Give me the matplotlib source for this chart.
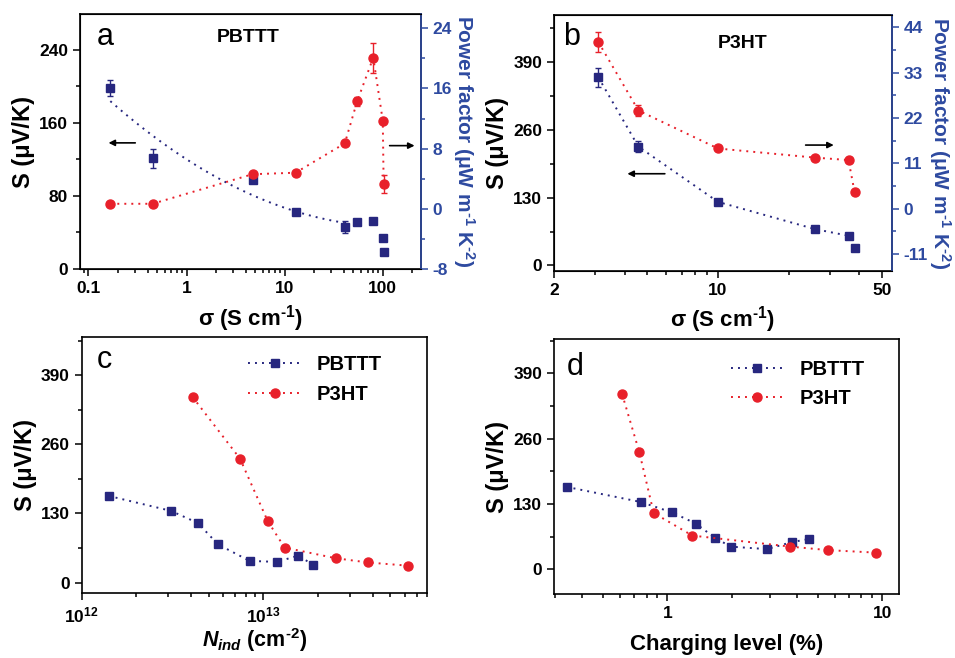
import numpy as np
import matplotlib
matplotlib.use('Agg')
import matplotlib.pyplot as plt
from matplotlib.ticker import FixedLocator, AutoMinorLocator, NullFormatter

plt.rcParams['font.family'] = ['Liberation Sans', 'DejaVu Sans']
plt.rcParams['font.weight'] = 'bold'
plt.rcParams['axes.unicode_minus'] = False
plt.rcParams['mathtext.fontset'] = 'custom'
plt.rcParams['mathtext.rm'] = 'Liberation Sans:bold'
plt.rcParams['mathtext.bf'] = 'Liberation Sans:bold'
plt.rcParams['mathtext.it'] = 'Liberation Sans:italic:bold'
plt.rcParams['mathtext.default'] = 'bf'

RED = '#e8202a'
NAVY = '#27277f'
AXBLUE = '#2e4aa0'

# panel a: PBTTT vs conductivity
a_sigma = [0.167, 0.45, 4.7, 12.9, 41, 54.8, 80, 100, 102]
a_S = [198, 121, 97, 62, 46, 51, 53, 34, 19]
a_S_err = [9, 10, 0, 0, 7, 0, 0, 0, 0]
a_PF = [0.67, 0.67, 4.6, 4.8, 8.7, 14.3, 20.1, 11.7, 3.3]
a_PF_err = [0, 0, 0, 0, 0, 0.6, 2.0, 0, 1.2]

# panel b: P3HT vs conductivity
b_sigma = [3.09, 4.58, 10.0, 25.8, 36.0, 38.2]
b_S = [361, 228, 122, 70, 57, 33]
b_S_err = [18, 11, 0, 0, 0, 0]
b_PF = [40.4, 23.8, 14.6, 12.4, 11.8, 4.1]
b_PF_err = [2.5, 1.4, 0, 0, 0, 0]

# panel c: S vs induced carrier density
c_N_pbttt = [1.41e12, 3.1e12, 4.37e12, 5.63e12, 8.4e12, 1.19e13, 1.56e13, 1.87e13]
c_S_pbttt = [163, 135, 112, 72, 41, 39, 51, 34]
c_N_p3ht = [4.08e12, 7.45e12, 1.057e13, 1.31e13, 2.5e13, 3.76e13, 6.24e13]
c_S_p3ht = [349, 233, 116, 66, 46, 38, 32]

# panel d: S vs charging level
d_cl_pbttt = [0.34, 0.751, 1.055, 1.355, 1.66, 1.97, 2.91, 3.79, 4.55]
d_S_pbttt = [164, 134, 113, 91, 63, 45, 40, 54, 60]
d_cl_p3ht = [0.616, 0.741, 0.864, 1.307, 3.73, 5.61, 9.38]
d_S_p3ht = [349, 233, 112, 67, 45, 38, 33]

DOT = (0, (1, 2.6))
SIGMA_LABEL = r'σ (S cm$^{\text{-}1}$)'
PF_LABEL = r'Power factor (μW m$^{\text{-}1}$ K$^{\text{-}2}$)'
S_LABEL = 'S (μV/K)'

fig = plt.figure(figsize=(9.55, 6.58), dpi=100)
ax_a = fig.add_axes([0.0838, 0.5912, 0.357, 0.3875])
ax_b = fig.add_axes([0.5801, 0.5886, 0.3536, 0.389])
ax_c = fig.add_axes([0.0855, 0.0983, 0.3619, 0.389])
ax_d = fig.add_axes([0.5801, 0.0968, 0.3616, 0.3875])


def style_axis(ax):
    ax.tick_params(which='both', direction='out', labelsize=12.5, width=1.1)
    ax.tick_params(which='major', length=5)
    ax.tick_params(which='minor', length=3)
    for s in ax.spines.values():
        s.set_linewidth(1.2)
    for lab in ax.get_xticklabels() + ax.get_yticklabels():
        lab.set_fontweight('bold')


def style_right(ax2):
    ax2.tick_params(which='both', direction='out', labelsize=12.5, width=1.1,
                    colors=AXBLUE)
    ax2.tick_params(which='major', length=5)
    ax2.tick_params(which='minor', length=3)
    ax2.spines['right'].set_color(AXBLUE)
    ax2.spines['right'].set_linewidth(1.2)
    for lab in ax2.get_yticklabels():
        lab.set_fontweight('bold')


def log_xaxis(ax, major, labels):
    ax.set_xscale('log')
    ax.xaxis.set_major_locator(FixedLocator(major))
    ax.set_xticklabels(labels)
    ax.xaxis.set_minor_formatter(NullFormatter())


def arrow(ax, start, end):
    ax.annotate('', xy=end, xytext=start,
                arrowprops=dict(arrowstyle='-|>', color='black', lw=1.2,
                                mutation_scale=9))


# ---- a ----
ax = ax_a
axr = ax.twinx()
lg = np.log10(a_sigma[:5])
coef = np.polyfit(lg, a_S[:5], 2)
xf = np.linspace(lg[0], lg[-1], 80)
ax.plot(10 ** xf, np.polyval(coef, xf), ls=DOT, color=NAVY, lw=1.4)
ax.errorbar(a_sigma, a_S, yerr=a_S_err, fmt='s', color=NAVY, ms=6,
            capsize=2.5, elinewidth=1, zorder=5)
axr.plot(a_sigma, a_PF, ls=DOT, color=RED, lw=1.4)
axr.errorbar(a_sigma, a_PF, yerr=a_PF_err, fmt='o', color=RED, ms=6.5,
             capsize=2.5, elinewidth=1, zorder=5)
log_xaxis(ax, [0.1, 1, 10, 100], ['0.1', '1', '10', '100'])
ax.set_xlim(0.082, 245)
ax.set_ylim(0, 279)
ax.set_yticks([0, 80, 160, 240])
ax.yaxis.set_minor_locator(AutoMinorLocator(2))
axr.set_ylim(-8, 25.9)
axr.set_yticks([-8, 0, 8, 16, 24])
axr.yaxis.set_minor_locator(AutoMinorLocator(2))
ax.set_ylabel(S_LABEL, fontsize=17, fontweight='bold', labelpad=3)
ax.set_xlabel(SIGMA_LABEL, fontsize=16, fontweight='bold', labelpad=5)
axr.set_ylabel(PF_LABEL, fontsize=15, fontweight='bold', color=AXBLUE,
               rotation=270, labelpad=18)
ax.text(0.05, 0.878, 'a', transform=ax.transAxes, fontsize=22,
        fontweight='normal')
ax.text(0.493, 0.891, 'PBTTT', transform=ax.transAxes, fontsize=14,
        fontweight='bold', ha='center')
arrow(ax, (0.32, 138), (0.15, 138))
arrow(axr, (110, 8.4), (225, 8.4))
style_axis(ax)
style_right(axr)

# ---- b ----
ax = ax_b
axr = ax.twinx()
ax.plot(b_sigma[:5], b_S[:5], ls=DOT, color=NAVY, lw=1.4)
ax.errorbar(b_sigma, b_S, yerr=b_S_err, fmt='s', color=NAVY, ms=6,
            capsize=2.5, elinewidth=1, zorder=5)
axr.plot(b_sigma, b_PF, ls=DOT, color=RED, lw=1.4)
axr.errorbar(b_sigma, b_PF, yerr=b_PF_err, fmt='o', color=RED, ms=6.5,
             capsize=2.5, elinewidth=1, zorder=5)
log_xaxis(ax, [2, 10, 50], ['2', '10', '50'])
ax.set_xlim(2, 55)
ax.set_ylim(-10, 481)
ax.set_yticks([0, 130, 260, 390])
ax.yaxis.set_minor_locator(AutoMinorLocator(2))
axr.set_ylim(-15, 47)
axr.set_yticks([-11, 0, 11, 22, 33, 44])
axr.yaxis.set_minor_locator(AutoMinorLocator(2))
ax.set_ylabel(S_LABEL, fontsize=17, fontweight='bold', labelpad=3)
ax.set_xlabel(SIGMA_LABEL, fontsize=16, fontweight='bold', labelpad=5)
axr.set_ylabel(PF_LABEL, fontsize=15, fontweight='bold', color=AXBLUE,
               rotation=270, labelpad=18)
ax.text(0.027, 0.88, 'b', transform=ax.transAxes, fontsize=22,
        fontweight='normal')
ax.text(0.56, 0.869, 'P3HT', transform=ax.transAxes, fontsize=14,
        fontweight='bold', ha='center')
arrow(ax, (6.1, 176), (4.0, 176))
arrow(ax, (23, 231), (32, 231))
style_axis(ax)
style_right(axr)

# ---- c ----
ax = ax_c
ax.plot(c_N_pbttt, c_S_pbttt, ls=DOT, color=NAVY, lw=1.4, marker='s', ms=6,
        label='PBTTT')
ax.plot(c_N_p3ht, c_S_p3ht, ls=DOT, color=RED, lw=1.4, marker='o', ms=6.5,
        label='P3HT')
log_xaxis(ax, [1e12, 1e13], [r'10$^{12}$', r'10$^{13}$'])
ax.set_xlim(1e12, 8e13)
ax.set_ylim(-20, 461)
ax.set_yticks([0, 130, 260, 390])
ax.yaxis.set_minor_locator(AutoMinorLocator(2))
ax.set_ylabel(S_LABEL, fontsize=17, fontweight='bold', labelpad=3)
ax.set_xlabel(r'$\mathit{N}_{\mathit{ind}}$ (cm$^{\text{-}2}$)', fontsize=15.5,
              fontweight='bold', labelpad=1)
ax.text(0.044, 0.88, 'c', transform=ax.transAxes, fontsize=22,
        fontweight='normal')
leg = ax.legend(loc='upper left', bbox_to_anchor=(0.43, 1.0), frameon=False,
                fontsize=14.5, handlelength=2.6, handletextpad=0.8,
                labelspacing=0.5)
for t in leg.get_texts():
    t.set_fontweight('bold')
style_axis(ax)

# ---- d ----
ax = ax_d
ax.plot(d_cl_pbttt, d_S_pbttt, ls=DOT, color=NAVY, lw=1.4, marker='s', ms=6,
        label='PBTTT')
ax.plot(d_cl_p3ht, d_S_p3ht, ls=DOT, color=RED, lw=1.4, marker='o', ms=6.5,
        label='P3HT')
log_xaxis(ax, [1, 10], ['1', '10'])
ax.set_xlim(0.297, 12)
ax.set_ylim(-50, 458)
ax.set_yticks([0, 130, 260, 390])
ax.yaxis.set_minor_locator(AutoMinorLocator(2))
ax.set_ylabel(S_LABEL, fontsize=17, fontweight='bold', labelpad=3)
ax.set_xlabel('Charging level (%)', fontsize=16, fontweight='bold',
              labelpad=9)
ax.text(0.038, 0.86, 'd', transform=ax.transAxes, fontsize=22,
        fontweight='normal')
leg = ax.legend(loc='upper left', bbox_to_anchor=(0.46, 0.99), frameon=False,
                fontsize=14.5, handlelength=2.6, handletextpad=0.8,
                labelspacing=0.5)
for t in leg.get_texts():
    t.set_fontweight('bold')
style_axis(ax)

fig.savefig('out.png', dpi=100)
